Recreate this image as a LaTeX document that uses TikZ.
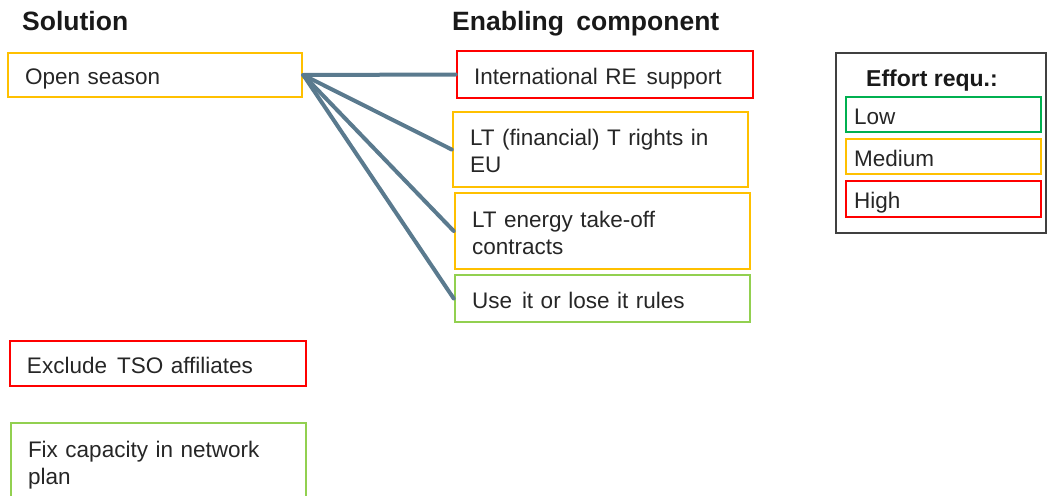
\documentclass[tikz,border=0pt]{standalone}
\usepackage{fontspec}
\setmainfont{Liberation Sans}
\definecolor{cOrange}{HTML}{FFC000}
\definecolor{cRed}{HTML}{FF0000}
\definecolor{cLgreen}{HTML}{92D050}
\definecolor{cGreen}{HTML}{00B050}
\definecolor{cLine}{HTML}{5A7A8E}
\definecolor{cText}{HTML}{262626}
\newcommand{\xsp}{\hspace{2.5pt}}
\begin{document}
\begin{tikzpicture}[x=1pt,y=-1pt,
  box/.style={draw, line width=2.6pt, inner xsep=17pt, inner ysep=0pt, align=left,
    font=\fontsize{22.5}{27}\selectfont, text=cText,
    execute at begin node={\rule{0pt}{25pt}},
    execute at end node={\rule[-6pt]{0pt}{6pt}}},
  title/.style={anchor=base west, inner sep=0pt, font=\fontsize{26.5}{30}\selectfont\bfseries, text=black!90},
  link/.style={draw=cLine, line width=4pt, line cap=round}]
\useasboundingbox (0,0) rectangle (1048,495);
\node[title] (t1) at (22,30.5) {Solution};
\node[title] (t2) at (452,30.5) {Enabling\xsp\xsp\ component};
% solutions
\node[box, draw=cOrange, minimum width=294pt, minimum height=44pt, text width=260pt] (os) at (155,75) {Open season};
\node[box, draw=cRed, minimum width=296pt, minimum height=45pt, text width=262pt] (ex) at (158,363.5) {Exclude\xsp\ TSO affiliates};
\node[box, draw=cLgreen, minimum width=295pt, minimum height=76pt, text width=261pt] (fx) at (158.5,461) {Fix capacity in network\\plan};
% enabling components
\node[box, draw=cRed, minimum width=296pt, minimum height=47pt, text width=262pt] (re) at (605,74.5) {International RE\xsp\ support};
\node[box, draw=cOrange, minimum width=295pt, minimum height=75pt, text width=261pt] (lf) at (600.5,149.5) {LT (financial) T rights in\\EU};
\node[box, draw=cOrange, minimum width=295pt, minimum height=76pt, text width=261pt] (le) at (602.5,231) {LT energy take-off\\contracts};
\node[box, draw=cLgreen, minimum width=295pt, minimum height=47pt, text width=261pt] (ui) at (602.5,298.5) {Use\xsp\ it or lose it rules};
% links
\draw[link] (os.east) -- (re.west);
\draw[link] (os.east) -- (lf.west);
\draw[link] (os.east) -- (le.west);
\draw[link] (os.east) -- (ui.west);
% legend
\node[draw=black!75, line width=1.3pt, minimum width=210pt, minimum height=180pt, inner sep=0pt] (lg) at (941,143) {};
\node[anchor=base west, inner sep=0pt, font=\fontsize{23}{27}\selectfont\bfseries, text=black!90] (lt) at (866,86) {Effort requ.:};
\node[box, draw=cGreen, line width=2.2pt, inner xsep=8pt, minimum width=195pt, minimum height=35pt, text width=179pt] (lo) at (943.5,114.5) {Low};
\node[box, draw=cOrange, line width=2.2pt, inner xsep=8pt, minimum width=195pt, minimum height=35pt, text width=179pt] (me) at (943.5,156.5) {Medium};
\node[box, draw=cRed, line width=2.2pt, inner xsep=8pt, minimum width=195pt, minimum height=36pt, text width=179pt] (hi) at (943.5,199) {High};
\end{tikzpicture}
\end{document}
